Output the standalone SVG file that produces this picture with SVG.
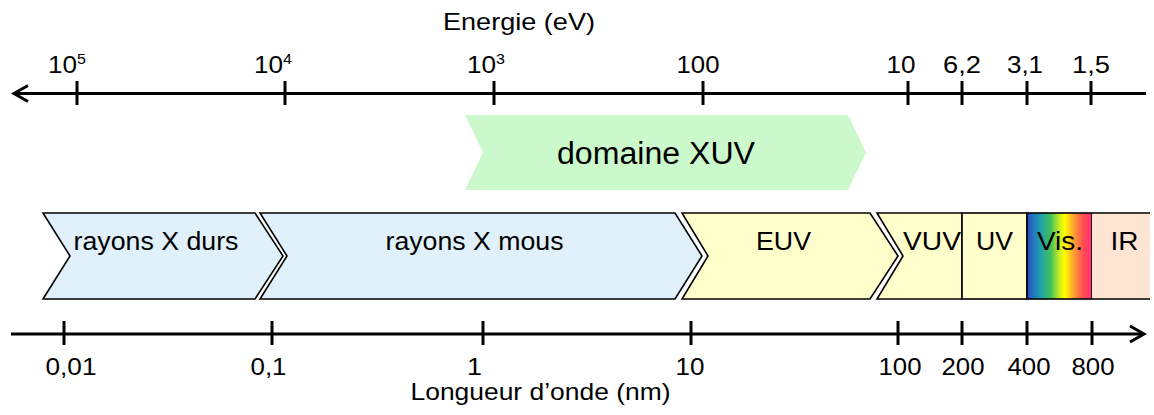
<svg xmlns="http://www.w3.org/2000/svg" width="1154" height="415" viewBox="0 0 1154 415">
<defs>
<style>
text{font-family:"Liberation Sans",Arial,sans-serif;fill:#000;text-anchor:middle}
.ax{font-size:24.5px}
.band{font-size:25px}
.axis{stroke:#000;stroke-width:3;fill:none}
.tick{stroke:#000;stroke-width:3}
.shape{stroke:#000;stroke-width:1.6;stroke-linejoin:miter}
.blue{fill:#e0f1fb}
.yel{fill:#ffffcc}
</style>
<linearGradient id="vis" x1="0" y1="0" x2="1" y2="0">
<stop offset="0" stop-color="#2b4cc8"/>
<stop offset="0.2" stop-color="#1e9eb0"/>
<stop offset="0.36" stop-color="#3fc05a"/>
<stop offset="0.5" stop-color="#c8ee20"/>
<stop offset="0.58" stop-color="#ffff00"/>
<stop offset="0.72" stop-color="#ffa030"/>
<stop offset="0.86" stop-color="#ff5050"/>
<stop offset="1" stop-color="#ff2e7a"/>
</linearGradient>
</defs>
<rect width="1154" height="415" fill="#fff"/>

<g id="connectors">
<g id="energy-axis">
<line class="axis" x1="15" y1="93.5" x2="1146" y2="93.5"/>
<polyline class="axis" points="28,85.5 14,93.5 28,101.5"/>
<line class="tick" x1="77" y1="81" x2="77" y2="105"/>
<line class="tick" x1="285" y1="81" x2="285" y2="105"/>
<line class="tick" x1="494" y1="81" x2="494" y2="105"/>
<line class="tick" x1="703" y1="81" x2="703" y2="105"/>
<line class="tick" x1="908" y1="81" x2="908" y2="105"/>
<line class="tick" x1="962" y1="81" x2="962" y2="105"/>
<line class="tick" x1="1027" y1="81" x2="1027" y2="105"/>
<line class="tick" x1="1091" y1="81" x2="1091" y2="105"/>
</g>
<g id="wavelength-axis">
<line class="axis" x1="11" y1="334" x2="1142" y2="334"/>
<polyline class="axis" points="1130,326 1144,334 1130,342"/>
<line class="tick" x1="64" y1="321" x2="64" y2="345"/>
<line class="tick" x1="272" y1="321" x2="272" y2="345"/>
<line class="tick" x1="483" y1="321" x2="483" y2="345"/>
<line class="tick" x1="691" y1="321" x2="691" y2="345"/>
<line class="tick" x1="898" y1="321" x2="898" y2="345"/>
<line class="tick" x1="962" y1="321" x2="962" y2="345"/>
<line class="tick" x1="1027" y1="321" x2="1027" y2="345"/>
<line class="tick" x1="1092" y1="321" x2="1092" y2="345"/>
</g>
</g>

<g id="energy-labels">
<text class="ax" x="519" y="30" textLength="152" lengthAdjust="spacingAndGlyphs">Energie (eV)</text>
<text class="ax" x="67" y="73" textLength="38" lengthAdjust="spacingAndGlyphs">10<tspan font-size="15" dy="-9">5</tspan></text>
<text class="ax" x="273" y="73" textLength="38" lengthAdjust="spacingAndGlyphs">10<tspan font-size="15" dy="-9">4</tspan></text>
<text class="ax" x="486" y="73" textLength="38" lengthAdjust="spacingAndGlyphs">10<tspan font-size="15" dy="-9">3</tspan></text>
<text class="ax" x="698" y="73" textLength="43" lengthAdjust="spacingAndGlyphs">100</text>
<text class="ax" x="901" y="73" textLength="29" lengthAdjust="spacingAndGlyphs">10</text>
<text class="ax" x="962" y="73" textLength="38" lengthAdjust="spacingAndGlyphs">6,2</text>
<text class="ax" x="1025" y="73" textLength="36" lengthAdjust="spacingAndGlyphs">3,1</text>
<text class="ax" x="1091" y="73" textLength="38" lengthAdjust="spacingAndGlyphs">1,5</text>
</g>

<g id="domaine-xuv">
<path d="M465,115 H848 L866,152.5 L848,190 H465 L483,152.5 Z" fill="#ccf9cc"/>
<text x="656" y="164" font-size="31" textLength="198" lengthAdjust="spacingAndGlyphs">domaine XUV</text>
</g>

<g id="rayons-x-durs">
<path class="shape blue" d="M43,213 H255 L283,256 L255,299 H43 L70,256 Z"/>
<text class="band" x="156" y="250" textLength="165" lengthAdjust="spacingAndGlyphs">rayons X durs</text>
</g>
<g id="rayons-x-mous">
<path class="shape blue" d="M260,213 H675 L702,256 L675,299 H260 L287,256 Z"/>
<text class="band" x="474.5" y="250" textLength="178" lengthAdjust="spacingAndGlyphs">rayons X mous</text>
</g>
<g id="euv">
<path class="shape yel" d="M682,213 H870 L898,256 L870,299 H682 L708,256 Z"/>
<text class="band" x="783.5" y="250" textLength="55" lengthAdjust="spacingAndGlyphs">EUV</text>
</g>
<g id="vuv">
<path class="shape yel" d="M877,213 H962 V299 H877 L903,256 Z"/>
<text class="band" x="932" y="250" textLength="58" lengthAdjust="spacingAndGlyphs">VUV</text>
</g>
<g id="uv">
<rect class="shape yel" x="962" y="213" width="65" height="86"/>
<text class="band" x="994.5" y="250" textLength="37" lengthAdjust="spacingAndGlyphs">UV</text>
</g>
<g id="vis">
<rect class="shape" x="1027" y="213" width="65" height="86" fill="url(#vis)"/>
<text class="band" x="1060" y="250" textLength="46" lengthAdjust="spacingAndGlyphs">Vis.</text>
</g>
<g id="ir">
<rect x="1092" y="213" width="58" height="86" fill="#fde4d3"/>
<path class="shape" fill="none" d="M1092,213 H1150 M1092,299 H1150"/>
<text class="band" x="1124.5" y="250" textLength="28" lengthAdjust="spacingAndGlyphs">IR</text>
</g>

<g id="wavelength-labels">
<text class="ax" x="71" y="375" textLength="51" lengthAdjust="spacingAndGlyphs">0,01</text>
<text class="ax" x="268.5" y="375" textLength="36" lengthAdjust="spacingAndGlyphs">0,1</text>
<text class="ax" x="474.5" y="375" textLength="15" lengthAdjust="spacingAndGlyphs">1</text>
<text class="ax" x="690" y="375" textLength="29" lengthAdjust="spacingAndGlyphs">10</text>
<text class="ax" x="900" y="375" textLength="43" lengthAdjust="spacingAndGlyphs">100</text>
<text class="ax" x="963" y="375" textLength="43" lengthAdjust="spacingAndGlyphs">200</text>
<text class="ax" x="1029" y="375" textLength="43" lengthAdjust="spacingAndGlyphs">400</text>
<text class="ax" x="1093" y="375" textLength="43" lengthAdjust="spacingAndGlyphs">800</text>
<text class="ax" x="540.5" y="400" textLength="260" lengthAdjust="spacingAndGlyphs">Longueur d’onde (nm)</text>
</g>
</svg>
